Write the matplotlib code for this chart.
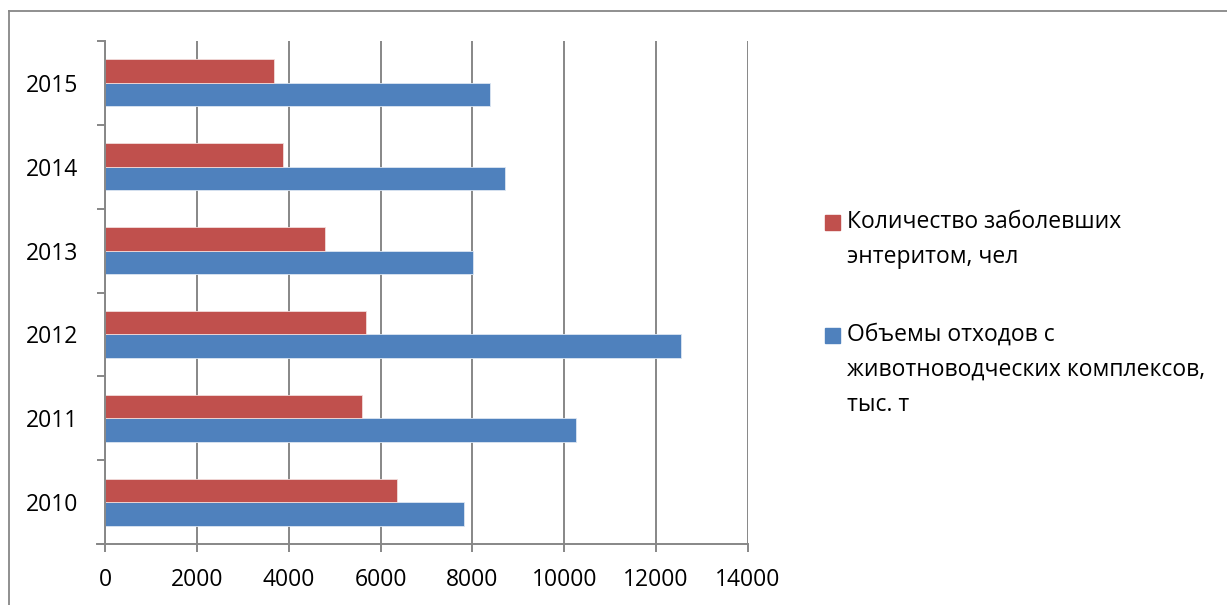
import matplotlib
matplotlib.use("Agg")
import matplotlib.pyplot as plt
from matplotlib.lines import Line2D
from matplotlib.patches import Rectangle
import numpy as np

plt.rcParams['font.family'] = ['Open Sans', 'DejaVu Sans']

years = ["2010", "2011", "2012", "2013", "2014", "2015"]
waste = [7818, 10254, 12532, 8013, 8717, 8376]
sick = [6368, 5606, 5685, 4793, 3866, 3677]
label_sick = "Количество заболевших\nэнтеритом, чел"
label_waste = "Объемы отходов с\nживотноводческих комплексов,\nтыс. т"
xticks = [0, 2000, 4000, 6000, 8000, 10000, 12000, 14000]

RED = "#C0504D"
BLUE = "#4F81BD"
GRAY = "#878787"

W, H = 1227, 605
fig = plt.figure(figsize=(W / 100, H / 100), dpi=100)
ax = fig.add_axes([105 / W, 1 - 544 / H, (748 - 105) / W, (544 - 41) / H])

y = np.arange(len(years))
h = 0.28
ax.barh(y - h / 2, waste, height=h, color=BLUE, edgecolor="#dce6f2", linewidth=0.6, zorder=3)
ax.barh(y + h / 2, sick, height=h, color=RED, edgecolor="#f2dcdb", linewidth=0.6, zorder=3)

ax.set_xlim(0, 14000)
ax.set_ylim(-0.5, len(years) - 0.5)
ax.set_xticks(xticks)
ax.set_xticklabels([str(v) for v in xticks])
ax.set_yticks(y)
ax.set_yticklabels(years)
ax.set_yticks(np.arange(-0.5, len(years)), minor=True)

ax.grid(axis="x", color=GRAY, linewidth=1.4, zorder=0)
for s in ["top", "right"]:
    ax.spines[s].set_visible(False)
for s in ["left", "bottom"]:
    ax.spines[s].set_color(GRAY)
    ax.spines[s].set_linewidth(1.4)
ax.spines["left"].set_zorder(4)

ax.tick_params(axis="y", which="major", length=0, pad=19, labelsize=16.5)
ax.tick_params(axis="y", which="minor", length=6, width=1.4, color=GRAY)
ax.tick_params(axis="x", which="major", length=6, width=1.4, color=GRAY, pad=11, labelsize=16.5)

# bottom axis extends left to meet the y tick
fig.add_artist(Line2D([97 / W, 105 / W], [1 - 544 / H, 1 - 544 / H], color=GRAY, lw=1.4))

# legend (manual, Excel-style)
fs = 16.5
entries = [(RED, label_sick, 222), (BLUE, label_waste, 335)]
for col, lab, ytop in entries:
    fig.add_artist(Rectangle((825 / W, 1 - (ytop + 8) / H), 15 / W, 15 / H, color=col,
                             transform=fig.transFigure))
    lines = lab.split("\n")
    for i, ln in enumerate(lines):
        fig.text(847 / W, 1 - (ytop + i * 35) / H, ln, fontsize=fs, va="center", ha="left")

# outer chart border
fig.add_artist(Line2D([9 / W, 1.0], [1 - 11 / H, 1 - 11 / H], color=GRAY, lw=1.3))
fig.add_artist(Line2D([9 / W, 9 / W], [0, 1 - 11 / H], color=GRAY, lw=1.3))

fig.savefig("out.png", dpi=100)
